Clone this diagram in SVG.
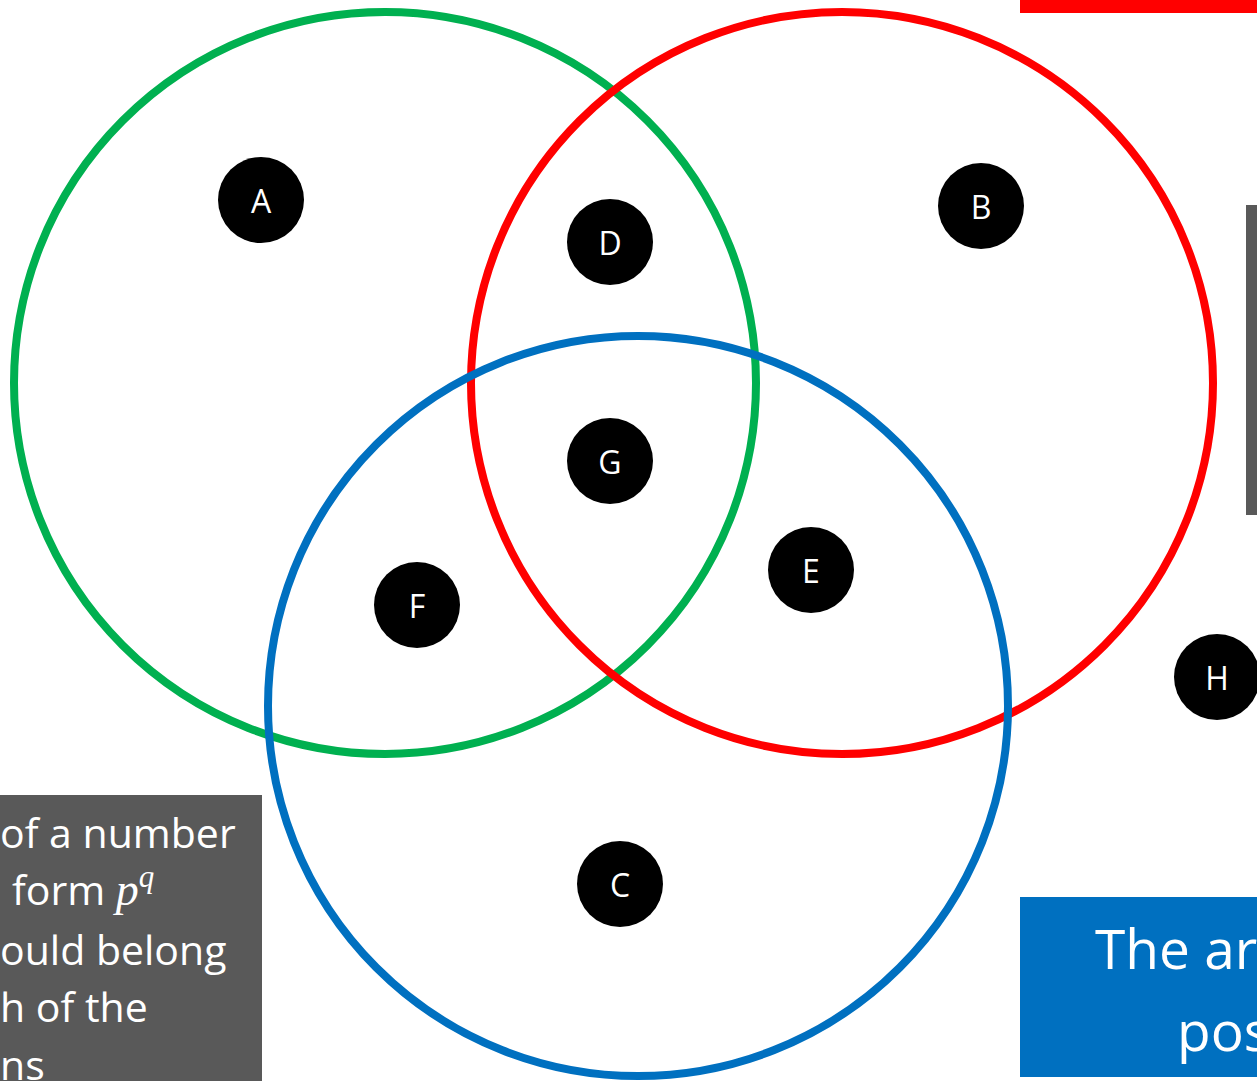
<svg xmlns="http://www.w3.org/2000/svg" width="1257" height="1081" viewBox="0 0 1257 1081">
<style>
.ring{fill:none;stroke-width:8}
.node circle{fill:#000}
.node text{fill:#fff;font-family:"Open Sans","Liberation Sans",sans-serif;font-size:32px;text-anchor:middle;dominant-baseline:central}
.gtxt{fill:#fff;font-family:"Open Sans","Liberation Sans",sans-serif;font-size:41px}
.btxt{fill:#fff;font-family:"Open Sans","Liberation Sans",sans-serif;font-size:55px}
</style>
<rect width="1257" height="1081" fill="#fff"/>
<rect x="1020" y="0" width="237" height="13" fill="#FF0000"/>
<rect x="1246" y="205" width="11" height="310" fill="#595959"/>
<g id="box-left">
<rect x="0" y="795" width="262" height="286" fill="#595959"/>
<text class="gtxt" x="0" y="848">of a number</text>
<text class="gtxt" x="12" y="905">form <tspan font-family="Liberation Serif,serif" font-style="italic" font-size="46">p</tspan><tspan font-family="Liberation Serif,serif" font-style="italic" font-size="31" dy="-18">q</tspan></text>
<text class="gtxt" x="0" y="965">ould belong</text>
<text class="gtxt" x="0" y="1022">h of the</text>
<text class="gtxt" x="0" y="1080">ns</text>
</g>
<g id="box-right">
<rect x="1020" y="897" width="237" height="180" fill="#0070C0"/>
<text class="btxt" x="1095" y="969">The ar</text>
<text class="btxt" x="1177" y="1051">pos</text>
</g>
<g id="sets">
<circle id="set-green" class="ring" cx="385" cy="383" r="371" stroke="#00B050"/>
<circle id="set-red" class="ring" cx="842" cy="383" r="371" stroke="#FF0000"/>
<circle id="set-blue" class="ring" cx="638" cy="706" r="370" stroke="#0070C0"/>
</g>
<g id="connectors"></g>
<g id="node-A" class="node"><circle cx="261" cy="200" r="43"/><text x="261" y="200">A</text></g>
<g id="node-B" class="node"><circle cx="981" cy="206" r="43"/><text x="981" y="206">B</text></g>
<g id="node-D" class="node"><circle cx="610" cy="242" r="43"/><text x="610" y="242">D</text></g>
<g id="node-G" class="node"><circle cx="610" cy="461" r="43"/><text x="610" y="461">G</text></g>
<g id="node-E" class="node"><circle cx="811" cy="570" r="43"/><text x="811" y="570">E</text></g>
<g id="node-F" class="node"><circle cx="417" cy="605" r="43"/><text x="417" y="605">F</text></g>
<g id="node-C" class="node"><circle cx="620" cy="884" r="43"/><text x="620" y="884">C</text></g>
<g id="node-H" class="node"><circle cx="1217" cy="677" r="43"/><text x="1217" y="677">H</text></g>
</svg>
